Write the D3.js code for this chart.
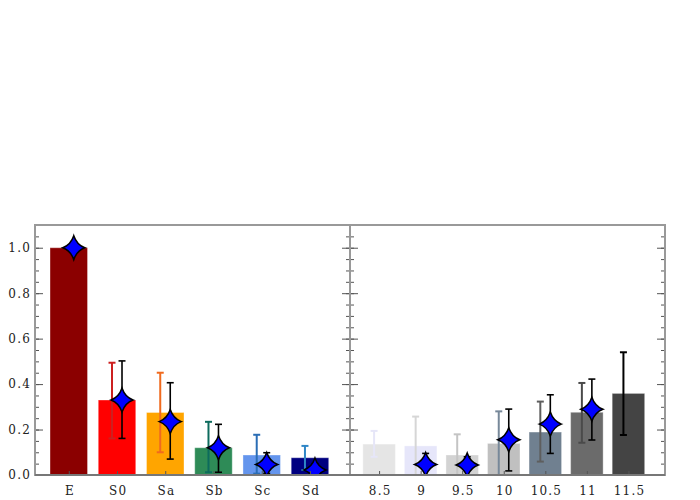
<!DOCTYPE html>
<html>
<head>
<meta charset="utf-8">
<script src="https://cdn.jsdelivr.net/npm/d3@7"></script>
<style>
  body { margin: 0; background: #fff; }
  svg text { font-family: "DejaVu Serif", serif; font-size: 12px; fill: #222; letter-spacing: 1.2px; }
</style>
</head>
<body>
<div id="chart"></div>
<script>
// left panel: morphological type
const leftCats = ['E', 'S0', 'Sa', 'Sb', 'Sc', 'Sd'];
const leftBar = [1.0, 0.33, 0.275, 0.12, 0.088, 0.076];
const leftBarLo = [null, 0.161, 0.10, 0.012, 0.006, 0.022];
const leftBarHi = [null, 0.494, 0.45, 0.234, 0.177, 0.128];
const leftStar = [1.0, 0.33, 0.235, 0.12, 0.046, 0.022];
const leftStarLo = [null, 0.161, 0.070, 0.012, 0.007, 0.005];
const leftStarHi = [null, 0.502, 0.406, 0.223, 0.098, 0.05];
const leftColors = ['#8b0000', '#ff0000', '#ffa500', '#2e8b57', '#6495ed', '#000080'];
const leftErrColors = ['#8b0000', '#cc2020', '#f06a1e', '#0d6b5d', '#2a6db5', '#2f86c6'];

// right panel: mass bins
const rightCats = ['8.5', '9', '9.5', '10', '10.5', '11', '11.5'];
const rightBar = [0.136, 0.128, 0.088, 0.139, 0.189, 0.276, 0.359];
const rightBarLo = [0.080, 0.0, 0.0, 0.0, 0.059, 0.142, 0.176];
const rightBarHi = [0.194, 0.257, 0.179, 0.280, 0.323, 0.405, 0.540];
const rightStar = [null, 0.046, 0.044, 0.155, 0.224, 0.289, null];
const rightStarLo = [null, 0.0, 0.0, 0.018, 0.095, 0.154, null];
const rightStarHi = [null, 0.095, 0.08, 0.29, 0.353, 0.422, null];
const rightColors = ['#e5e5e5', '#e6e6fa', '#d3d3d3', '#c0c0c0', '#708090', '#6b6b6b', '#444444'];
const rightErrColors = ['#e6e6f8', '#d6d6d6', '#c4c4c4', '#778899', '#5e5e5e', '#4a4a4a', '#000000'];

const yTicks = [0, 0.2, 0.4, 0.6, 0.8, 1.0];
const yMinor = d3.range(0, 1.1001, 0.05);

const svgWidth = 700, svgHeight = 500;
const plotTop = 225, plotBottom = 475;
const x0 = 35, xMid = 350, x1 = 665;

const svg = d3.select('#chart').append('svg')
    .attr('width', svgWidth)
    .attr('height', svgHeight);

svg.append('defs').append('clipPath').attr('id', 'plot-clip')
    .append('rect')
    .attr('x', x0).attr('y', plotTop)
    .attr('width', x1 - x0).attr('height', plotBottom - plotTop);

const yScale = d3.scaleLinear().domain([0, 1.1]).range([plotBottom, plotTop]);

const xLeft = d3.scaleLinear().domain([-0.7, 5.83]).range([x0, xMid]);
const xRight = d3.scaleLinear().domain([-0.7, 6.88]).range([xMid, x1]);

// 4 pointed star with curved sides
function starPath(rx, ry) {
    const c = 3;
    return 'M0,' + (-ry) +
        'Q' + c + ',' + (-c) + ' ' + rx + ',0' +
        'Q' + c + ',' + c + ' 0,' + ry +
        'Q' + (-c) + ',' + c + ' ' + (-rx) + ',0' +
        'Q' + (-c) + ',' + (-c) + ' 0,' + (-ry) + 'Z';
}

function errorBar(g, x, lo, hi, color, w) {
    g.append('line')
        .attr('x1', x).attr('x2', x)
        .attr('y1', yScale(lo)).attr('y2', yScale(hi))
        .attr('stroke', color).attr('stroke-width', w);
    [lo, hi].forEach(v => {
        g.append('line')
            .attr('x1', x - 3.5).attr('x2', x + 3.5)
            .attr('y1', yScale(v)).attr('y2', yScale(v))
            .attr('stroke', color).attr('stroke-width', w);
    });
}

function drawPanel(xs, cats, bar, barLo, barHi, star, starLo, starHi, colors, errColors, barW) {
    const g = svg.append('g').attr('clip-path', 'url(#plot-clip)');
    cats.forEach((c, i) => {
        const cx = xs(i);
        g.append('rect')
            .attr('x', cx - barW / 2)
            .attr('y', yScale(bar[i]))
            .attr('width', barW)
            .attr('height', yScale(0) - yScale(bar[i]))
            .attr('fill', colors[i])
            .attr('stroke', '#fff')
            .attr('stroke-opacity', 0.35)
            .attr('stroke-width', 1);
    });
    cats.forEach((c, i) => {
        const cx = xs(i);
        if (barLo[i] !== null) errorBar(g, cx - 5, barLo[i], barHi[i], errColors[i], 2);
    });
    cats.forEach((c, i) => {
        const cx = xs(i);
        if (starLo[i] !== null) errorBar(g, cx + 5, starLo[i], starHi[i], '#000', 1.6);
    });
    cats.forEach((c, i) => {
        if (star[i] === null) return;
        g.append('path')
            .attr('transform', 'translate(' + (xs(i) + 5) + ',' + yScale(star[i]) + ')')
            .attr('d', starPath(11, 12))
            .attr('fill', '#0000ff')
            .attr('stroke', '#000')
            .attr('stroke-width', 1.5);
    });
}

drawPanel(xLeft, leftCats, leftBar, leftBarLo, leftBarHi, leftStar, leftStarLo, leftStarHi,
    leftColors, leftErrColors, 37.5);
drawPanel(xRight, rightCats, rightBar, rightBarLo, rightBarHi, rightStar, rightStarLo, rightStarHi,
    rightColors, rightErrColors, 32.5);

// axes
function styleAxis(a) {
    a.select('.domain').remove();
    a.selectAll('.tick line').attr('stroke', '#555');
}

function yAxis(x, side, labels) {
    const major = (side === 'left' ? d3.axisLeft(yScale) : d3.axisRight(yScale))
        .tickValues(yTicks).tickSize(-8).tickPadding(4)
        .tickFormat(labels ? d3.format('.1f') : '');
    const minor = (side === 'left' ? d3.axisLeft(yScale) : d3.axisRight(yScale))
        .tickValues(yMinor).tickSize(-4).tickFormat('');
    svg.append('g').attr('transform', 'translate(' + x + ',0)').call(minor).call(styleAxis);
    const g = svg.append('g').attr('transform', 'translate(' + x + ',0)').call(major).call(styleAxis);
    g.selectAll('text').attr('fill', '#222').style('font-size', '12px');
}

yAxis(x0, 'left', true);
yAxis(xMid, 'right', false);
yAxis(xMid, 'left', false);
yAxis(x1, 'right', false);

function xAxis(xs, cats) {
    const g = svg.append('g')
        .attr('transform', 'translate(0,' + plotBottom + ')')
        .call(d3.axisBottom(xs).tickValues(d3.range(cats.length))
            .tickSize(-4).tickPadding(11).tickFormat(i => cats[i]))
        .call(styleAxis);
    g.selectAll('text').attr('fill', '#222').attr('dx', '0.6').style('font-size', '12px');
}
xAxis(xLeft, leftCats);
xAxis(xRight, rightCats);

// frame
svg.append('rect')
    .attr('x', x0).attr('y', plotTop)
    .attr('width', x1 - x0).attr('height', plotBottom - plotTop)
    .attr('fill', 'none')
    .attr('stroke', '#999')
    .attr('stroke-width', 2);
svg.append('line')
    .attr('x1', xMid).attr('x2', xMid)
    .attr('y1', plotTop).attr('y2', plotBottom)
    .attr('stroke', '#999')
    .attr('stroke-width', 2);
svg.append('line')
    .attr('x1', x0).attr('x2', x1)
    .attr('y1', plotBottom).attr('y2', plotBottom)
    .attr('stroke', '#777')
    .attr('stroke-width', 2);
</script>
</body>
</html>
